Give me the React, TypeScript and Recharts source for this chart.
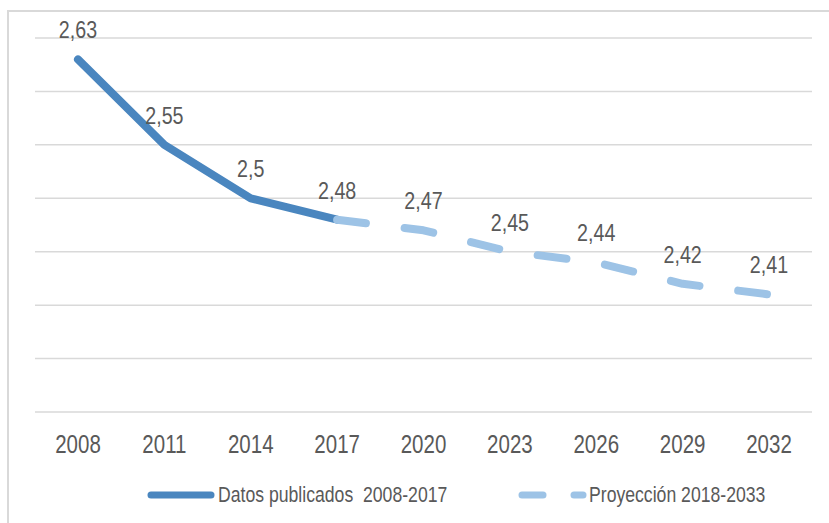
import React from "react";
import { LineChart, Line, XAxis, YAxis, CartesianGrid } from "recharts";

const years = ["2008", "2011", "2014", "2017", "2020", "2023", "2026", "2029", "2032"];
const publicados = [2.63, 2.55, 2.5, 2.48, null, null, null, null, null];
const proyeccion = [null, null, null, 2.48, 2.47, 2.45, 2.44, 2.42, 2.41];
const yTicks = [2.3, 2.35, 2.4, 2.45, 2.5, 2.55, 2.6, 2.65];
const seriesNames = ["Datos publicados  2008-2017", "Proyección 2018-2033"];

const data = years.map((y, i) => ({ year: y, publicados: publicados[i], proyeccion: proyeccion[i] }));

// no Arial Narrow here, so squeeze Liberation Sans horizontally
const FONT = "'Liberation Sans', Arial, sans-serif";
const NARROW = 0.82;
const TEXT = "#595959";
const DARK = "#4a86bf";
const LIGHT = "#9dc3e6";

const fmt = (v: number) => String(v).replace(".", ",");

const NarrowText = ({ x, y, size, anchor = "middle", children }: any) => (
  <text
    transform={`translate(${x},${y}) scale(${NARROW},1)`}
    x={0}
    y={0}
    textAnchor={anchor}
    fontFamily={FONT}
    fontSize={size}
    fill={TEXT}
    style={{ whiteSpace: "pre" }}
  >
    {children}
  </text>
);

const makeLabel = (skip: (i: number) => boolean) => (props: any) => {
  const x = props.x ?? props.viewBox?.x;
  const y = props.y ?? props.viewBox?.y;
  if (props.value == null || skip(props.index)) return <g key={props.index} />;
  return (
    <g key={props.index}>
      <NarrowText x={x} y={y - 21} size={24}>
        {fmt(props.value)}
      </NarrowText>
    </g>
  );
};

const XTick = (props: any) => {
  const { x, y, payload } = props;
  return (
    <NarrowText x={x} y={y + 33} size={25}>
      {payload.value}
    </NarrowText>
  );
};

const App: React.FC = () => {
  return (
    <div style={{ position: "absolute", left: 0, top: 0, width: 829, height: 523, background: "#fff", overflow: "hidden" }}>
      <div
        style={{
          position: "absolute",
          left: 7,
          top: 10,
          width: 840,
          height: 530,
          border: "2px solid #d9d9d9",
          boxSizing: "border-box",
        }}
      />
      <div style={{ position: "absolute", left: 0, top: 0 }}>
        <LineChart width={829} height={523} data={data} margin={{ top: 38, right: 17, bottom: 71, left: 35 }}>
          <CartesianGrid vertical={false} stroke="#d9d9d9" strokeWidth={1.5} />
          <XAxis
            dataKey="year"
            axisLine={false}
            tickLine={false}
            height={40}
            padding={{ left: 43, right: 43 }}
            tick={<XTick />}
            interval={0}
          />
          <YAxis hide domain={[2.3, 2.65]} ticks={yTicks} />
          <Line
            dataKey="publicados"
            type="linear"
            stroke={DARK}
            strokeWidth={8}
            strokeLinecap="round"
            strokeLinejoin="round"
            dot={false}
            activeDot={false}
            isAnimationActive={false}
            label={makeLabel(() => false)}
          />
          <Line
            dataKey="proyeccion"
            type="linear"
            stroke={LIGHT}
            strokeWidth={8}
            strokeDasharray="29 39"
            strokeLinecap="round"
            strokeLinejoin="round"
            dot={false}
            activeDot={false}
            isAnimationActive={false}
            label={makeLabel((i) => publicados[i] != null)}
          />
        </LineChart>
      </div>
      <svg width={829} height={40} style={{ position: "absolute", left: 0, top: 476 }}>
        <line x1={151} y1={19} x2={211} y2={19} stroke={DARK} strokeWidth={7} strokeLinecap="round" />
        <NarrowText x={218} y={26} size={21.5} anchor="start">
          {seriesNames[0]}
        </NarrowText>
        <line x1={522} y1={19} x2={543} y2={19} stroke={LIGHT} strokeWidth={7} strokeLinecap="round" />
        <line x1={574} y1={19} x2={583} y2={19} stroke={LIGHT} strokeWidth={7} strokeLinecap="round" />
        <NarrowText x={589} y={26} size={21.5} anchor="start">
          {seriesNames[1]}
        </NarrowText>
      </svg>
    </div>
  );
};

export default App;
